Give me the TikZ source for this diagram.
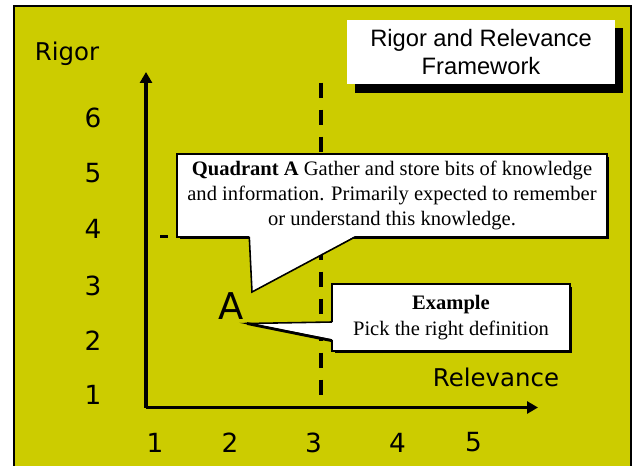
\documentclass[tikz,border=0pt]{standalone}
\usepackage{fontspec}
\setmainfont{Liberation Serif}
\setsansfont{Liberation Sans}
\newfontfamily\axisfont{DejaVu Sans}
\usetikzlibrary{arrows.meta,shadows}

\definecolor{rrolive}{RGB}{204,204,0}

\begin{document}
\begin{tikzpicture}[x=0.02cm,y=-0.02cm,
    axislabel/.style={font=\axisfont\fontsize{13.9}{16}\selectfont},
    axisnum/.style={font=\axisfont\fontsize{15}{17}\selectfont},
    axisline/.style={line width=1.8pt, -{Triangle[length=0.22cm,width=0.24cm]}},
    guideline/.style={line width=1.8pt, dash pattern=on 0.3cm off 0.24cm},
    notebox/.style={draw, fill=white, line width=0.9pt, align=center,
      font=\fontsize{11.7}{14.4}\selectfont,
      drop shadow={fill=black, opacity=1, shadow xshift=0.05cm, shadow yshift=-0.05cm}}]

      \useasboundingbox (0,0) rectangle (632,466);

      %Slide background
      \fill [rrolive] (14,6) rectangle (631,466);
      \draw [line width=1.5pt] (14,466) -- (14,6) -- (631,6) -- (631,466);

      %Title
      \node [fill=white, minimum width=5.36cm, minimum height=1.3cm, align=center,
             font=\sffamily\fontsize{13.5}{15.4}\selectfont,
             drop shadow={fill=black, opacity=1, shadow xshift=0.16cm, shadow yshift=-0.17cm}]
            (title) at (481,52) {Rigor and Relevance\\Framework};

      %Quadrant borders
      \coordinate (vtop) at (321,82.7);
      \coordinate (vbot) at (321,395);
      \coordinate (hleft) at (160,236.5);
      \coordinate (hright) at (600,236.5);
      \draw [guideline] (vtop) -- (vbot);
      \draw [line width=1.8pt, dash pattern=on 0.16cm off 0.18cm] (hleft) -- (hright);

      %Axes
      \coordinate (origin) at (146,407.5);
      \coordinate (ytip) at (146,72);
      \coordinate (xtip) at (538,407.5);
      \draw [axisline] (origin) -- (ytip);
      \draw [axisline] (origin) -- (xtip);
      \node [axislabel] (rigor) at (67,54) {Rigor};
      \node [axislabel] (relevance) at (496,377) {Relevance};
      \foreach \n/\ypos in {1/395, 2/341, 3/285.5, 4/229, 5/173, 6/117.5} {
        \node [axisnum] (rig\n) at (93,\ypos) {\n};
      }
      \foreach \n/\xpos in {1/155, 2/230, 3/313.5, 4/397.5, 5/473.5} {
        \node [axisnum] (rel\n) at (\xpos,442.5) {\n};
      }

      %Quadrant letter
      \node [font=\axisfont\fontsize{21}{24}\selectfont] (quadA) at (231,306.5) {A};

      %Callout for quadrant A
      \node [notebox, minimum width=8.6cm, minimum height=1.66cm]
            (infoA) at (392,195.5)
            {\textbf{Quadrant A} Gather and store bits of knowledge\\
             and information. Primarily expected to remember\\
             or understand this knowledge.};
      \coordinate (tipinfo) at (252,292);
      \fill [white] (249.3,236) -- (tipinfo) -- (355,236) -- cycle;
      \draw [line width=0.9pt] (249.3,237) -- (tipinfo) -- (355,237);

      %Callout for the example
      \node [notebox, minimum width=4.76cm, minimum height=1.34cm]
            (example) at (451,317.5)
            {\textbf{Example}\\Pick the right definition};
      \coordinate (tipexample) at (247,323.5);
      \fill [white] (333,322) -- (tipexample) -- (333,340) -- cycle;
      \draw [line width=0.9pt] (332,322) -- (tipexample) -- (332,340);
      \draw [line width=1.6pt] (tipexample) -- (331,340.5);

    \end{tikzpicture}
\end{document}
